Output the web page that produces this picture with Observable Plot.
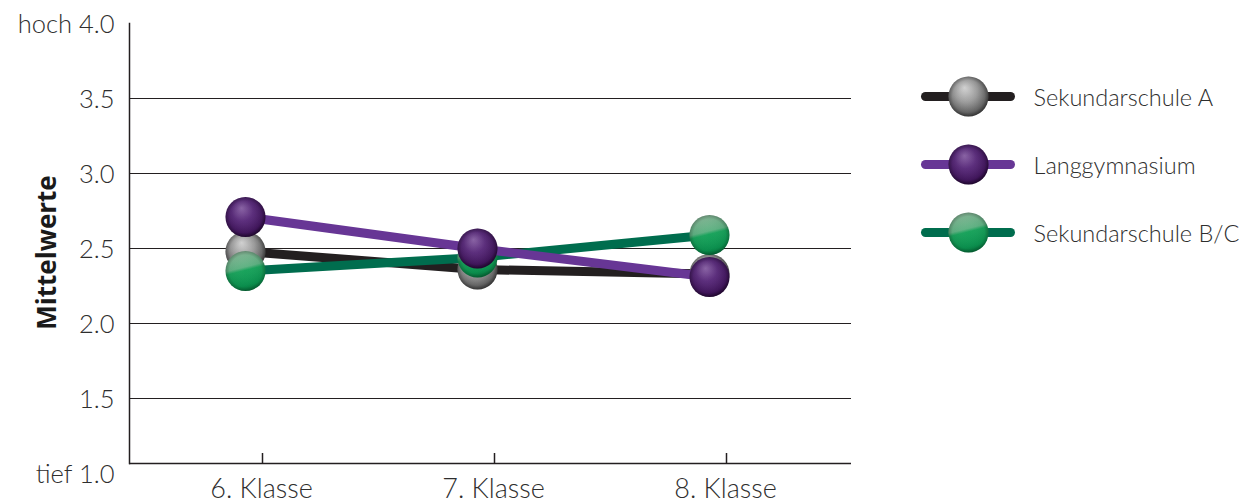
<!DOCTYPE html>
<html>
<head>
<meta charset="utf-8">
<script src="https://cdn.jsdelivr.net/npm/d3@7"></script>
<script src="https://cdn.jsdelivr.net/npm/@observablehq/plot@0.6"></script>
<style>
  html, body { margin: 0; padding: 0; background: #fff; }
  #wrap { position: relative; width: 1242px; height: 504px; overflow: hidden; }
  #legend { position: absolute; left: 880px; top: 0; }
</style>
</head>
<body>
<div id="wrap">
  <div id="chart"></div>
  <div id="legend"></div>
</div>
<script>
// School years on the horizontal axis
const grades = ["6. Klasse", "7. Klasse", "8. Klasse"];

// Series names, in drawing order for the legend
const seriesNames = ["Sekundarschule A", "Langgymnasium", "Sekundarschule B/C"];

// Mean values per school type and year
const sekundarschuleA = [2.48, 2.36, 2.33];
const langgymnasium = [2.71, 2.50, 2.31];
const sekundarschuleBC = [2.35, 2.44, 2.59];

// Y axis ticks and their labels
const yTicks = [1, 1.5, 2, 2.5, 3, 3.5, 4];
const yTickLabels = ["tief 1.0", "1.5", "2.0", "2.5", "3.0", "3.5", "hoch 4.0"];
const gridValues = [1.5, 2, 2.5, 3, 3.5];

const lineColors = {
  "Sekundarschule A": "#231f20",
  "Langgymnasium": "#673695",
  "Sekundarschule B/C": "#006d4e"
};
const ballFills = {
  "Sekundarschule A": "url(#ball-grey)",
  "Langgymnasium": "url(#ball-purple)",
  "Sekundarschule B/C": "url(#ball-green)"
};

const valuesBySeries = {
  "Sekundarschule A": sekundarschuleA,
  "Langgymnasium": langgymnasium,
  "Sekundarschule B/C": sekundarschuleBC
};

const rows = seriesNames.flatMap(s =>
  grades.map((g, i) => ({series: s, grade: g, value: valuesBySeries[s][i]}))
);

// Lines are stacked: A underneath, then B/C, then Langgymnasium on top
const drawOrder = ["Sekundarschule A", "Sekundarschule B/C", "Langgymnasium"];

const seriesMarks = drawOrder.flatMap(s => {
  const data = rows.filter(d => d.series === s);
  return [
    Plot.line(data, {x: "grade", y: "value", stroke: lineColors[s], strokeWidth: 9}),
    Plot.dot(data, {x: "grade", y: "value", r: 20, fill: ballFills[s], stroke: "none"}),
    Plot.dot(data, {x: "grade", y: "value", r: 20, fill: "url(#ball-shine)", stroke: "none"})
  ];
});

const fontStack = "Lato, 'Open Sans', sans-serif";

const chart = Plot.plot({
  width: 880,
  height: 504,
  marginTop: 23,
  marginBottom: 31,
  marginLeft: 129,
  marginRight: 29,
  style: {fontFamily: fontStack, fontWeight: 300, color: "#2e2e2e", background: "#fff"},
  x: {type: "point", domain: grades, range: [245, 709], padding: 0},
  y: {domain: [1, 4]},
  marks: [
    Plot.ruleY(gridValues, {stroke: "#231f20", strokeWidth: 1}),
    Plot.ruleY([1], {dy: -10, stroke: "#231f20", strokeWidth: 1.5}),
    Plot.frame({anchor: "left", insetBottom: 10, stroke: "#231f20", strokeWidth: 1.5}),
    Plot.axisX({anchor: "bottom", tickSize: 10, dy: -20, dx: 17, tickFormat: () => "", label: null, stroke: "#231f20", strokeWidth: 1.5}),
    Plot.axisX({anchor: "bottom", tickSize: 0, tickPadding: 5, dx: 16, fontSize: 27, label: null}),
    Plot.axisY({anchor: "left", ticks: yTicks, tickSize: 0, tickPadding: 15, fontSize: 25.5, label: null, dy: 1,
      tickFormat: d => yTickLabels[yTicks.indexOf(d)]}),
    Plot.text(["Mittelwerte"], {frameAnchor: "left", dx: -82, dy: 4, rotate: -90, textAnchor: "middle", lineAnchor: "middle",
      fontSize: 26, fontWeight: "bold", fontFamily: "'Open Sans', Lato, sans-serif", fill: "#1a1a1a"}),
    ...seriesMarks
  ]
});

// Shaded ball fills used by the markers, plus a soft diagonal sheen
const defsHtml = `
  <radialGradient id="ball-grey" cx="0.45" cy="0.4" r="0.6" fx="0.4" fy="0.28">
    <stop offset="0" stop-color="#d4d4d4"/>
    <stop offset="0.5" stop-color="#9d9d9d"/>
    <stop offset="0.85" stop-color="#6a6a6a"/>
    <stop offset="1" stop-color="#4a4a4a"/>
  </radialGradient>
  <radialGradient id="ball-purple" cx="0.45" cy="0.4" r="0.6" fx="0.4" fy="0.28">
    <stop offset="0" stop-color="#8a63a6"/>
    <stop offset="0.45" stop-color="#5b2d7c"/>
    <stop offset="0.85" stop-color="#43175f"/>
    <stop offset="1" stop-color="#2c0a40"/>
  </radialGradient>
  <linearGradient id="ball-green" x1="0.3" y1="0" x2="0.55" y2="1">
    <stop offset="0" stop-color="#8fbf9f"/>
    <stop offset="0.42" stop-color="#5fb283"/>
    <stop offset="0.5" stop-color="#1aa35c"/>
    <stop offset="0.85" stop-color="#0b9450"/>
    <stop offset="1" stop-color="#077a40"/>
  </linearGradient>
  <radialGradient id="ball-shine" cx="0.5" cy="0.5" r="0.5">
    <stop offset="0" stop-color="#fff" stop-opacity="0"/>
    <stop offset="0.8" stop-color="#000" stop-opacity="0.05"/>
    <stop offset="1" stop-color="#000" stop-opacity="0.28"/>
  </radialGradient>`;

function addDefs(svg) {
  const defs = document.createElementNS("http://www.w3.org/2000/svg", "defs");
  defs.innerHTML = defsHtml;
  svg.insertBefore(defs, svg.firstChild);
}
addDefs(chart);
document.getElementById("chart").appendChild(chart);

// Legend: line swatch with ball, and the series name
const legend = Plot.plot({
  width: 362,
  height: 504,
  margin: 0,
  style: {fontFamily: fontStack, fontWeight: 300, color: "#2e2e2e", background: "transparent"},
  x: {domain: [0, 1], range: [45.5, 130.5], axis: null},
  y: {type: "point", domain: seriesNames, range: [96, 232], padding: 0, axis: null},
  marks: [
    Plot.ruleY(seriesNames, {y: d => d, x1: 0, x2: 1, stroke: d => lineColors[d], strokeWidth: 9, strokeLinecap: "round"}),
    Plot.dot(seriesNames, {y: d => d, x: 0.5, r: 20, fill: d => ballFills[d], stroke: "none"}),
    Plot.dot(seriesNames, {y: d => d, x: 0.5, r: 20, fill: "url(#ball-shine)", stroke: "none"}),
    Plot.text(seriesNames, {y: d => d, x: 1, dx: 22.5, dy: 2, text: d => d, textAnchor: "start", fontSize: 23.5, fill: "#2e2e2e"})
  ]
});
addDefs(legend);
document.getElementById("legend").appendChild(legend);
</script>
</body>
</html>
